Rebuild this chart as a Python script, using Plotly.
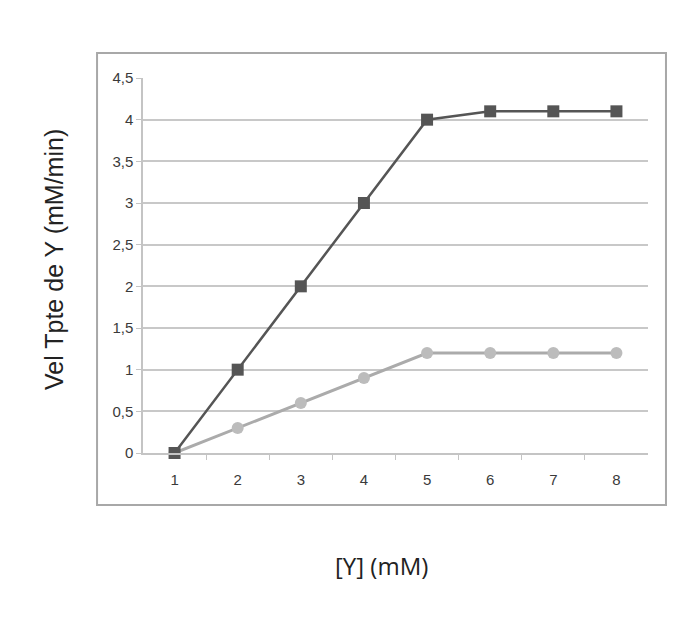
import plotly.graph_objects as go

# concentración de Y (mM)
conc_y = [1, 2, 3, 4, 5, 6, 7, 8]
# velocidad de transporte (mM/min)
vel_cuadrados = [0, 1, 2, 3, 4, 4.1, 4.1, 4.1]
vel_circulos = [0, 0.3, 0.6, 0.9, 1.2, 1.2, 1.2, 1.2]

y_ticks = [0, 0.5, 1, 1.5, 2, 2.5, 3, 3.5, 4, 4.5]
y_labels = ["0", "0,5", "1", "1,5", "2", "2,5", "3", "3,5", "4", "4,5"]

font_name = "Liberation Sans Narrow, Liberation Sans, Arial"

fig = go.Figure()
fig.add_trace(go.Scatter(
    x=conc_y, y=vel_circulos, mode="lines+markers",
    line=dict(color="#ababab", width=3),
    marker=dict(symbol="circle", size=12, color="#bcbcbc"),
    cliponaxis=False, showlegend=False,
))
fig.add_trace(go.Scatter(
    x=conc_y, y=vel_cuadrados, mode="lines+markers",
    line=dict(color="#555555", width=2.5),
    marker=dict(symbol="square", size=12, color="#555555"),
    cliponaxis=False, showlegend=False,
))

fig.update_layout(
    width=685, height=622,
    margin=dict(l=135, r=45, t=70, b=177),
    paper_bgcolor="white", plot_bgcolor="white",
    font=dict(family=font_name, color="#3a3a3a", size=15),
    xaxis=dict(
        range=[0.5, 8.5], tickvals=conc_y, ticktext=[str(v) for v in conc_y],
        ticks="", showgrid=False, zeroline=False,
        showline=True, linecolor="#c4c4c4", linewidth=1.5,
        minor=dict(tickvals=[v + 0.5 for v in range(1, 8)], ticks="outside",
                   ticklen=5, tickcolor="#c4c4c4", showgrid=False),
        tickfont=dict(size=15), ticklabelstandoff=12,
    ),
    yaxis=dict(
        range=[0, 4.5], tickvals=y_ticks, ticktext=y_labels,
        ticks="outside", ticklen=5, tickcolor="#c4c4c4",
        showgrid=True, gridcolor="#c8c8c8", gridwidth=1.5, zeroline=False,
        showline=True, linecolor="#c4c4c4", linewidth=1.5,
        tickfont=dict(size=15),
    ),
    shapes=[dict(
        type="rect", xref="paper", yref="paper",
        x0=-0.091, x1=1.0356, y0=-0.1387, y1=1.0667,
        line=dict(color="#a8a8a8", width=2), layer="below",
    )],
    annotations=[
        dict(text="Vel Tpte de Y (mM/min)", xref="paper", yref="paper",
             x=-0.176, y=0.515, textangle=-90, showarrow=False,
             xanchor="center", yanchor="middle",
             font=dict(family="Liberation Sans, Arial", size=25, color="#222222")),
        dict(text="[Y] (mM)", xref="paper", yref="paper",
             x=0.473, y=-0.299, showarrow=False,
             xanchor="center", yanchor="middle",
             font=dict(family="Open Sans, Noto Sans", size=24, color="#222222")),
    ],
)

fig.write_html("out.html")
